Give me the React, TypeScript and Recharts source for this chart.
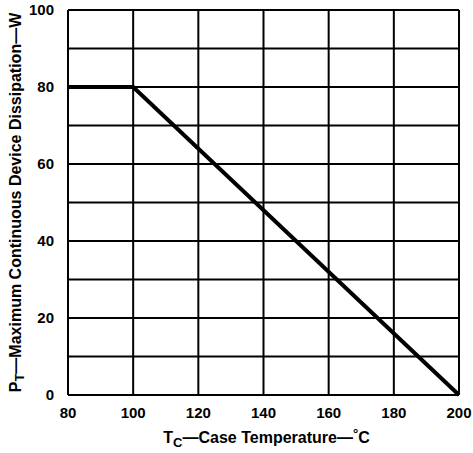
import React from 'react';
import { LineChart, Line, XAxis, YAxis, CartesianGrid, Label } from 'recharts';

const caseTemps = [80, 100, 200];
const powerW = [80, 80, 0];
const xTicks = [80, 100, 120, 140, 160, 180, 200];
const yTicks = [0, 10, 20, 30, 40, 50, 60, 70, 80, 90, 100];
const yLabelTicks = [0, 20, 40, 60, 80, 100];

const data = caseTemps.map((t, i) => ({ t, p: powerW[i] }));

const FONT = '"Liberation Sans Narrow", "Liberation Sans", Arial, sans-serif';

const YTitle = (props: any) => {
  const vb = props.viewBox || {};
  const cy = vb.y + vb.height / 2;
  const cx = 15;
  return (
    <text
      x={cx}
      y={cy}
      transform={`rotate(-90 ${cx} ${cy})`}
      textAnchor="middle"
      dominantBaseline="central"
      fontFamily={FONT}
      fontWeight="bold"
      fontSize={16}
      fill="#000"
    >
      <tspan>P</tspan>
      <tspan fontSize={13} dy={4}>T</tspan>
      <tspan dy={-4}>—Maximum Continuous Device Dissipation—W</tspan>
    </text>
  );
};

const XTitle = (props: any) => {
  const vb = props.viewBox || {};
  const cx = vb.x + vb.width / 2 + 3;
  const y = 443;
  return (
    <text x={cx} y={y} textAnchor="middle" fontFamily={FONT} fontWeight="bold" fontSize={16} fill="#000">
      <tspan>T</tspan>
      <tspan fontSize={13} dy={4}>C</tspan>
      <tspan dy={-4}>—Case Temperature—</tspan>
      <tspan fontSize={13} dy={-5}>°</tspan>
      <tspan dy={5}>C</tspan>
    </text>
  );
};

export default function App() {
  return (
    <div style={{ position: 'absolute', left: 0, top: 0, width: 473, height: 453, background: '#fff' }}>
      <LineChart width={473} height={453} data={data} margin={{ top: 10, right: 14, left: 0, bottom: 0 }}>
        <CartesianGrid stroke="#000" strokeWidth={2} horizontalValues={yTicks} verticalValues={xTicks} />
        <XAxis
          dataKey="t"
          type="number"
          domain={[80, 200]}
          ticks={xTicks}
          tickLine={false}
          axisLine={{ stroke: '#000', strokeWidth: 2 }}
          height={58}
          tickMargin={6}
          tick={{ fill: '#000', fontFamily: FONT, fontWeight: 'bold', fontSize: 15 }}
        >
          <Label content={XTitle} />
        </XAxis>
        <YAxis
          type="number"
          domain={[0, 100]}
          ticks={yTicks}
          tickFormatter={(v: number) => (yLabelTicks.includes(v) ? String(v) : '')}
          tickLine={false}
          axisLine={{ stroke: '#000', strokeWidth: 2 }}
          width={68}
          tickMargin={8}
          tick={{ fill: '#000', fontFamily: FONT, fontWeight: 'bold', fontSize: 15 }}
        >
          <Label content={YTitle} />
        </YAxis>
        <Line
          dataKey="p"
          stroke="#000"
          strokeWidth={4}
          dot={false}
          isAnimationActive={false}
          strokeLinejoin="miter"
        />
      </LineChart>
    </div>
  );
}
